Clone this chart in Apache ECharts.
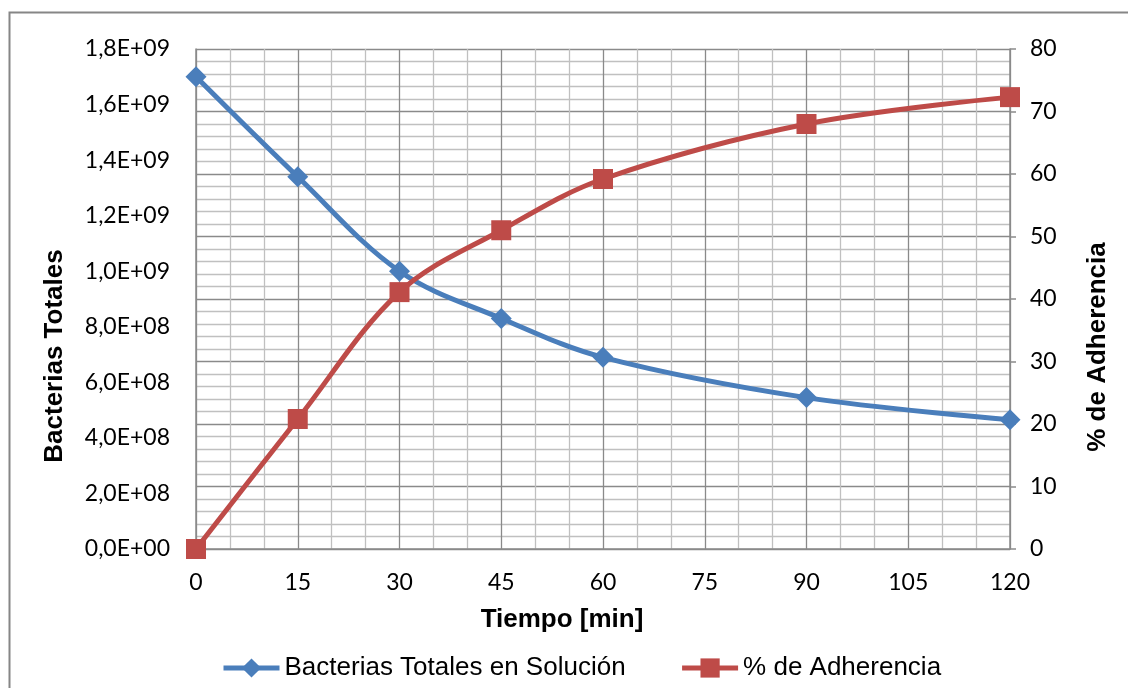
<!DOCTYPE html>
<html>
<head>
<meta charset="utf-8">
<script src="https://cdn.jsdelivr.net/npm/echarts@6/dist/echarts.min.js"></script>
<style>html,body{margin:0;padding:0;background:#fff;}#c{width:1128px;height:688px;}</style>
</head>
<body>
<div id="c"></div>
<script>
var tiempo = [0, 15, 30, 45, 60, 90, 120];
var bacterias = [1.70e9, 1.34e9, 1.00e9, 0.83e9, 0.69e9, 0.545e9, 0.465e9];
var adherencia = [0, 20.8, 41.1, 51.0, 59.2, 68.0, 72.3];
var seriesNames = ['Bacterias Totales en Solución', '% de Adherencia'];
var xTitle = 'Tiempo [min]';
var yLeftTitle = 'Bacterias Totales';
var yRightTitle = '% de Adherencia';

function sci(v) {
  if (v === 0) return '0,0E+00';
  var s = v.toExponential(1);
  var parts = s.split('e');
  var m = parts[0].replace('.', ',');
  var e = parseInt(parts[1], 10);
  var sign = e < 0 ? '-' : '+';
  var ae = Math.abs(e);
  return m + 'E' + sign + (ae < 10 ? '0' + ae : '' + ae);
}

var chart = echarts.init(document.getElementById('c'));
var tickFont = {fontFamily: 'Lato', fontSize: 23, color: '#000'};
var minorColor = '#c0c0c0';
var majorColor = '#8a8a8a';

chart.setOption({
  animation: false,
  backgroundColor: '#fff',
  grid: {left: 196, right: 118, top: 49, bottom: 139, containLabel: false},
  xAxis: {
    type: 'value', min: 0, max: 120, interval: 15,
    axisLine: {show: true, lineStyle: {color: majorColor, width: 1.5}},
    axisTick: {show: false},
    axisLabel: Object.assign({margin: 22}, tickFont),
    splitLine: {show: true, lineStyle: {color: majorColor, width: 1.3}},
    minorTick: {show: false, splitNumber: 3},
    minorSplitLine: {show: true, lineStyle: {color: minorColor, width: 1.3}}
  },
  yAxis: [
    {
      type: 'value', min: 0, max: 1.8e9, interval: 2e8,
      axisLine: {show: true, lineStyle: {color: majorColor, width: 1.5}},
      axisTick: {show: false},
      axisLabel: Object.assign({margin: 26, formatter: sci}, tickFont),
      splitLine: {show: false}
    },
    {
      type: 'value', min: 0, max: 80, interval: 10, position: 'right',
      axisLine: {show: true, lineStyle: {color: majorColor, width: 1.5}},
      axisTick: {show: true, length: 6, lineStyle: {color: majorColor, width: 1.5}},
      axisLabel: Object.assign({margin: 20}, tickFont),
      splitLine: {show: true, lineStyle: {color: majorColor, width: 1.3}},
      minorTick: {show: false, splitNumber: 5},
      minorSplitLine: {show: true, lineStyle: {color: minorColor, width: 1.3}}
    }
  ],
  legend: {
    left: 216, top: 650,
    itemWidth: 56, itemHeight: 24, itemGap: 54,
    lineStyle: {width: 5},
    textStyle: {fontFamily: 'Liberation Sans', fontSize: 26, color: '#000'},
    data: seriesNames
  },
  graphic: [
    {type: 'rect', shape: {x: 9.5, y: 12.5, width: 1200, height: 800},
     style: {fill: 'none', stroke: '#868686', lineWidth: 2}, silent: true, z: -10},
    {type: 'text', x: 562, y: 620,
     style: {text: xTitle, font: 'bold 26px "Liberation Sans"', fill: '#000', align: 'center', verticalAlign: 'middle'}},
    {type: 'text', x: 55, y: 356, rotation: Math.PI / 2,
     style: {text: yLeftTitle, font: 'bold 26px "Liberation Sans"', fill: '#000', align: 'center', verticalAlign: 'middle'}},
    {type: 'text', x: 1098, y: 347, rotation: Math.PI / 2,
     style: {text: yRightTitle, font: 'bold 26px "Liberation Sans"', fill: '#000', align: 'center', verticalAlign: 'middle'}}
  ],
  series: [
    {
      name: seriesNames[0], type: 'line', yAxisIndex: 0, smooth: 0.35,
      data: tiempo.map(function (t, i) { return [t, bacterias[i]]; }),
      symbol: 'diamond', symbolSize: 21,
      lineStyle: {color: '#4a7ebb', width: 5},
      itemStyle: {color: '#4a7ebb'}
    },
    {
      name: seriesNames[1], type: 'line', yAxisIndex: 1, smooth: 0.35,
      data: tiempo.map(function (t, i) { return [t, adherencia[i]]; }),
      symbol: 'rect', symbolSize: 20,
      lineStyle: {color: '#be4b48', width: 5},
      itemStyle: {color: '#be4b48'}
    }
  ]
});
</script>
</body>
</html>
